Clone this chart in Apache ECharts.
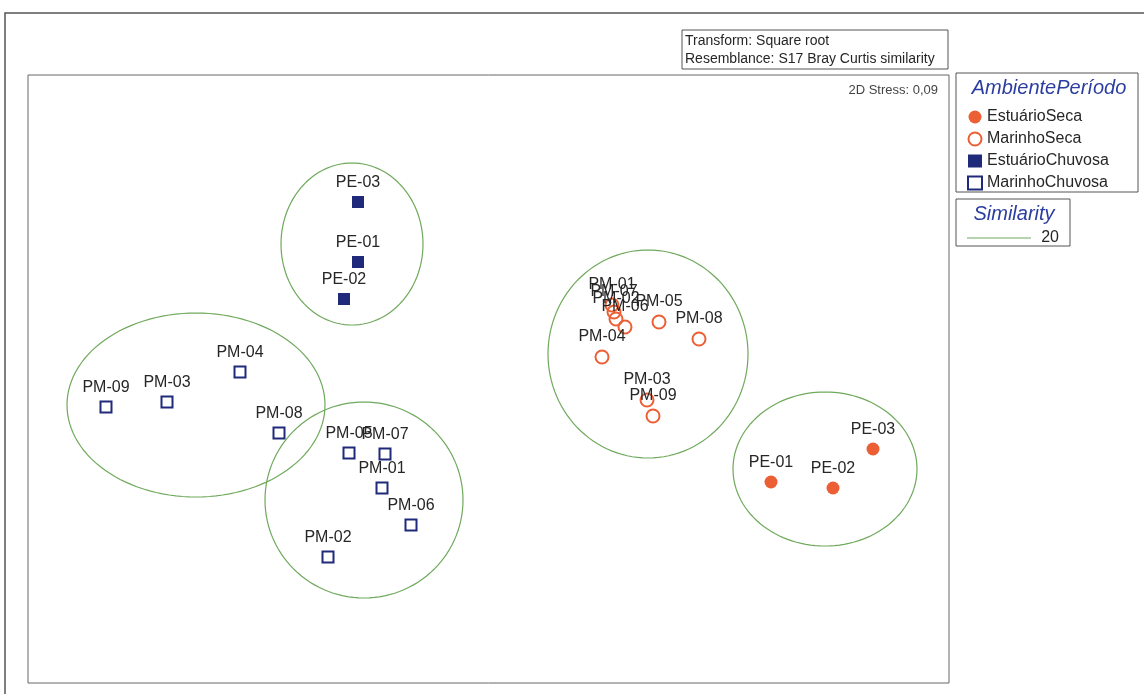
<!DOCTYPE html>
<html><head><meta charset="utf-8">
<script src="https://cdn.jsdelivr.net/npm/echarts@6/dist/echarts.min.js"></script>
<style>html,body{margin:0;padding:0;background:#fff}#c{width:1144px;height:694px}</style>
</head><body><div id="c"></div>
<script>
// nMDS coordinates (arbitrary MDS units: plot-relative)
const estuarioSecaNames = ['PE-01','PE-02','PE-03'];
const estuarioSecaX = [743, 805, 845];
const estuarioSecaY = [201, 195, 234];

const marinhoSecaNames = ['PM-01','PM-07','PM-02','PM-06','PM-05','PM-08','PM-04','PM-03','PM-09'];
const marinhoSecaX = [584, 586, 588, 597, 631, 671, 574, 619, 625];
const marinhoSecaY = [378, 371, 364, 356, 361, 344, 326, 283, 267];

const estuarioChuvosaNames = ['PE-03','PE-01','PE-02'];
const estuarioChuvosaX = [330, 330, 316];
const estuarioChuvosaY = [481, 421, 384];

const marinhoChuvosaNames = ['PM-09','PM-03','PM-04','PM-08','PM-05','PM-07','PM-01','PM-06','PM-02'];
const marinhoChuvosaX = [78, 139, 212, 251, 321, 357, 354, 383, 300];
const marinhoChuvosaY = [276, 281, 311, 250, 230, 229, 195, 158, 126];

// similarity 20 contours: centre x, centre y, radius x, radius y
const contourCX = [324, 168, 336, 620, 797];
const contourCY = [439, 278, 183, 329, 214];
const contourRX = [71, 129, 99, 100, 92];
const contourRY = [81, 92, 98, 104, 77];

const seriesNames = ['EstuárioSeca','MarinhoSeca','EstuárioChuvosa','MarinhoChuvosa'];
const ORANGE = '#ec5f35', NAVY = '#1f2a7a', GREEN = '#6fa95c', TEXT = '#262626';
const FONT = 'Liberation Sans, Arial, sans-serif';

function pts(names, xs, ys){ return names.map((n,i)=>({name:n, value:[xs[i], ys[i]]})); }
const contourData = contourCX.map((c,i)=>[c, contourCY[i], contourRX[i], contourRY[i]]);

const labelCfg = {show:true, position:'top', distance:5, formatter:p=>p.name,
  color:TEXT, fontSize:16, fontFamily:FONT};

const chart = echarts.init(document.getElementById('c'));
chart.setOption({
  animation:false,
  backgroundColor:'#fff',
  grid:{left:28, top:75, width:921, height:608, show:true, borderColor:'#666', borderWidth:1, backgroundColor:'#fff'},
  xAxis:{type:'value', min:0, max:921, show:false},
  yAxis:{type:'value', min:0, max:608, show:false},
  legend:{
    orient:'vertical', left:962, top:104, itemWidth:14, itemHeight:13, itemGap:6,
    data:seriesNames,
    textStyle:{fontSize:16, color:TEXT, fontFamily:FONT},
    selectedMode:false
  },
  series:[
    {type:'custom', name:'contours', silent:true, data:contourData, z:1,
     renderItem:function(params, api){
       const cx=api.value(0), cy=api.value(1), rx=api.value(2), ry=api.value(3);
       const points=[];
       for(let k=0;k<=120;k++){
         const a=k/120*Math.PI*2;
         points.push(api.coord([cx+rx*Math.cos(a), cy+ry*Math.sin(a)]));
       }
       return {type:'polygon', shape:{points:points}, style:{fill:'none', stroke:GREEN, lineWidth:1.2}};
     }},
    {type:'scatter', name:'EstuárioSeca', symbol:'circle', symbolSize:13, z:3,
     itemStyle:{color:ORANGE, opacity:1}, label:labelCfg,
     data:pts(estuarioSecaNames, estuarioSecaX, estuarioSecaY)},
    {type:'scatter', name:'MarinhoSeca', symbol:'circle', symbolSize:13, z:3,
     itemStyle:{color:'rgba(255,255,255,0)', borderColor:ORANGE, borderWidth:2, opacity:1}, label:labelCfg,
     data:pts(marinhoSecaNames, marinhoSecaX, marinhoSecaY)},
    {type:'scatter', name:'EstuárioChuvosa', symbol:'rect', symbolSize:12, z:3,
     itemStyle:{color:NAVY, opacity:1}, label:labelCfg,
     data:pts(estuarioChuvosaNames, estuarioChuvosaX, estuarioChuvosaY)},
    {type:'scatter', name:'MarinhoChuvosa', symbol:'rect', symbolSize:11, z:3,
     itemStyle:{color:'#fff', borderColor:NAVY, borderWidth:2, opacity:1}, label:labelCfg,
     data:pts(marinhoChuvosaNames, marinhoChuvosaX, marinhoChuvosaY)}
  ],
  graphic:[
    {type:'rect', z:-10, shape:{x:5, y:13, width:1200, height:720}, style:{fill:'none', stroke:'#555', lineWidth:1.5}},
    {type:'rect', shape:{x:682, y:30, width:266, height:39}, style:{fill:'#fff', stroke:'#555', lineWidth:1}},
    {type:'text', x:685, y:41, style:{text:'Transform: Square root', fontSize:14, fill:TEXT, verticalAlign:'middle', fontFamily:FONT}},
    {type:'text', x:685, y:59, style:{text:'Resemblance: S17 Bray Curtis similarity', fontSize:14, fill:TEXT, verticalAlign:'middle', fontFamily:FONT}},
    {type:'text', x:938, y:90, style:{text:'2D Stress: 0,09', fontSize:13, fill:'#444', align:'right', verticalAlign:'middle', fontFamily:FONT}},
    {type:'rect', z:-1, shape:{x:956, y:73, width:182, height:119}, style:{fill:'#fff', stroke:'#555', lineWidth:1}},
    {type:'text', x:1049, y:88, style:{text:'AmbientePeríodo', fontSize:20, fontStyle:'italic', fill:'#2b3da0', align:'center', verticalAlign:'middle', fontFamily:FONT}},
    {type:'rect', shape:{x:956, y:199, width:114, height:47}, style:{fill:'#fff', stroke:'#555', lineWidth:1}},
    {type:'text', x:1014, y:214, style:{text:'Similarity', fontSize:20, fontStyle:'italic', fill:'#2b3da0', align:'center', verticalAlign:'middle', fontFamily:FONT}},
    {type:'line', shape:{x1:967, y1:238, x2:1031, y2:238}, style:{stroke:GREEN, lineWidth:1.2}},
    {type:'text', x:1059, y:238, style:{text:'20', fontSize:16, fill:TEXT, align:'right', verticalAlign:'middle', fontFamily:FONT}}
  ]
});
</script></body></html>
